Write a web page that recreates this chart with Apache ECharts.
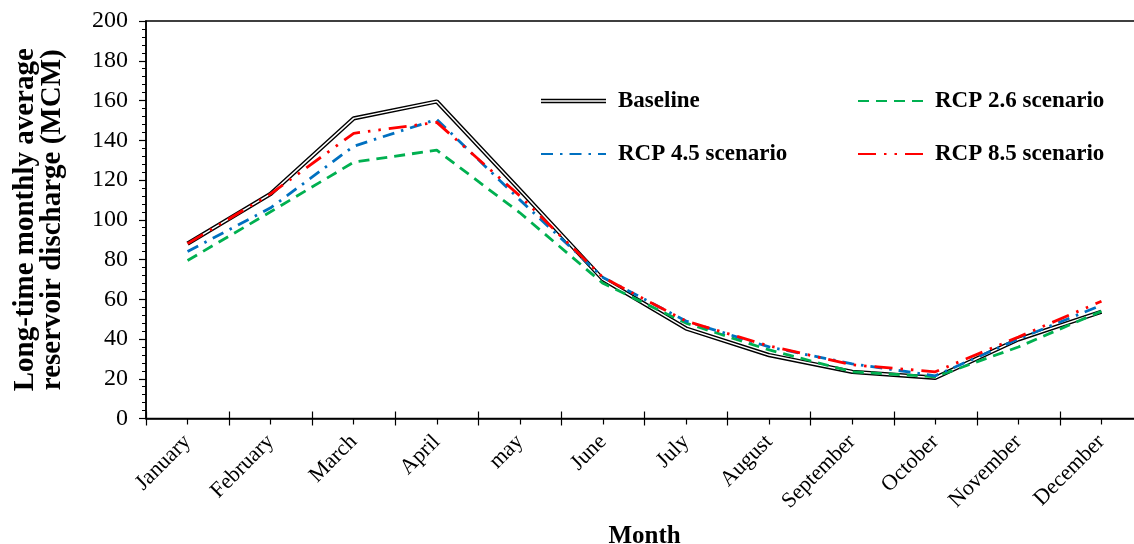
<!DOCTYPE html>
<html>
<head>
<meta charset="utf-8">
<title>Reservoir discharge</title>
<script src="https://cdn.jsdelivr.net/npm/echarts@6/dist/echarts.min.js"></script>
<style>
    html, body { margin: 0; padding: 0; background: #fff; }
    #chartMain { width: 1134px; height: 544px; }
</style>
</head>
<body>
<div id="chartMain"></div>
<script>
// 月份
let months = ['January', 'February', 'March', 'April', 'may', 'June', 'July', 'August', 'September', 'October', 'November', 'December'];

// 各情景月均出库流量 (MCM)
let baseline = [88, 113, 151, 159.5, 115, 70, 45.3, 31.9, 23.5, 20.5, 39.8, 53.7];
let rcp26 = [79.5, 104, 129, 135, 103.5, 68, 48, 34.5, 23.5, 21, 36, 54];
let rcp45 = [84, 106, 137, 150.5, 110, 71, 49, 36, 27.5, 21.5, 40, 57];
let rcp85 = [88, 113, 143.5, 149, 112, 71, 49, 36.5, 27, 23.5, 41, 59];

let yTicks = { min: 0, max: 200, step: 20 };

let myChart;
let serif = "'Liberation Serif', 'Times New Roman', serif";

window.onload = function () {
    setMyChartData();
}

function setMyChartData() {
    if (myChart != null && myChart != undefined) {
        myChart.dispose();
    }
    myChart = echarts.init(document.getElementById('chartMain'));

    let lineW = 2.8;

    let legendText = {
        color: '#000',
        fontFamily: serif,
        fontWeight: 'bold',
        fontSize: 23,
        lineHeight: 24,
        padding: [0, 0, 0, 7]
    };

    let option = {
        backgroundColor: '#fff',
        animation: false,
        grid: {
            left: 146,
            top: 21,
            right: -9,
            bottom: 125.5,
            show: true,
            borderColor: '#000',
            borderWidth: 1.5,
            backgroundColor: 'transparent',
            containLabel: false,
            outerBoundsMode: 'none'
        },
        legend: [
            {
                left: 540,
                top: 89,
                padding: 0,
                orient: 'vertical',
                itemWidth: 65,
                itemHeight: 14,
                itemGap: 29,
                selectedMode: false,
                textStyle: legendText,
                itemStyle: { opacity: 0 },
                data: [
                    { name: 'Baseline', icon: 'path://M0,0H65V1.4H0Z M0,2.9H65V4.3H0Z', itemStyle: { opacity: 1, color: '#000' } },
                    { name: 'RCP 4.5 scenario' }
                ]
            },
            {
                left: 857,
                top: 89,
                padding: 0,
                orient: 'vertical',
                itemWidth: 65,
                itemHeight: 14,
                itemGap: 29,
                selectedMode: false,
                textStyle: legendText,
                itemStyle: { opacity: 0 },
                data: [
                    { name: 'RCP 2.6 scenario' },
                    { name: 'RCP 8.5 scenario' }
                ]
            }
        ],
        xAxis: [
            {
                type: 'category',
                data: months,
                boundaryGap: true,
                name: 'Month',
                nameLocation: 'middle',
                nameGap: 106,
                nameTextStyle: { color: '#000', fontFamily: serif, fontWeight: 'bold', fontSize: 25 },
                axisLine: { lineStyle: { color: '#000', width: 1.5 } },
                axisTick: { show: true, length: 7, lineStyle: { color: '#000', width: 1.2 } },
                axisLabel: {
                    interval: 0,
                    rotate: 45,
                    margin: 20,
                    color: '#000',
                    fontFamily: serif,
                    fontSize: 22
                },
                splitLine: { show: false }
            },
            {
                // 刻度向内的一半
                type: 'category',
                data: months,
                position: 'bottom',
                boundaryGap: true,
                axisLine: { show: false },
                axisTick: { show: true, inside: true, length: 7, lineStyle: { color: '#000', width: 1.2 } },
                axisLabel: { show: false },
                splitLine: { show: false }
            },
            {
                // 月份中点的小刻度
                type: 'category',
                data: months,
                position: 'bottom',
                boundaryGap: true,
                axisLine: { show: false },
                axisTick: { show: true, alignWithLabel: true, length: 6, lineStyle: { color: '#000', width: 1.2 } },
                axisLabel: { show: false },
                splitLine: { show: false }
            }
        ],
        yAxis: {
            type: 'value',
            min: yTicks.min,
            max: yTicks.max,
            interval: yTicks.step,
            name: 'Long-time monthly average\nreservoir discharge (MCM)',
            nameLocation: 'middle',
            nameGap: 80,
            nameTextStyle: {
                color: '#000',
                fontFamily: serif,
                fontWeight: 'bold',
                fontSize: 29,
                lineHeight: 27
            },
            axisLine: { show: true, lineStyle: { color: '#000', width: 1.5 } },
            axisTick: { show: true, length: 7, lineStyle: { color: '#000', width: 1.2 } },
            minorTick: { show: true, splitNumber: 5, length: 4, lineStyle: { color: '#000', width: 1 } },
            axisLabel: { margin: 18, color: '#000', fontFamily: serif, fontSize: 24 },
            splitLine: { show: false },
            minorSplitLine: { show: false }
        },
        series: [
            {
                name: 'Baseline',
                type: 'line',
                data: baseline,
                symbol: 'none',
                z: 2,
                itemStyle: { color: '#000' },
                lineStyle: { color: '#000', width: 4.3 }
            },
            {
                // 双线中间的白线
                name: 'Baseline inner',
                type: 'line',
                data: baseline,
                symbol: 'none',
                z: 3,
                silent: true,
                itemStyle: { color: '#fff' },
                lineStyle: { color: '#fff', width: 1.5 }
            },
            {
                name: 'RCP 2.6 scenario',
                type: 'line',
                data: rcp26,
                symbol: 'none',
                z: 4,
                itemStyle: { color: '#00B050' },
                lineStyle: { color: '#00B050', width: lineW, type: [11, 7] }
            },
            {
                name: 'RCP 4.5 scenario',
                type: 'line',
                data: rcp45,
                symbol: 'none',
                z: 5,
                itemStyle: { color: '#0070C0' },
                lineStyle: { color: '#0070C0', width: lineW, type: [12, 7, 2.5, 7] }
            },
            {
                name: 'RCP 8.5 scenario',
                type: 'line',
                data: rcp85,
                symbol: 'none',
                z: 6,
                itemStyle: { color: '#FF0000' },
                lineStyle: { color: '#FF0000', width: lineW, type: [18, 8, 2.5, 8, 2.5, 8] }
            }
        ]
    };

    myChart.setOption(option);
}
</script>
</body>
</html>
